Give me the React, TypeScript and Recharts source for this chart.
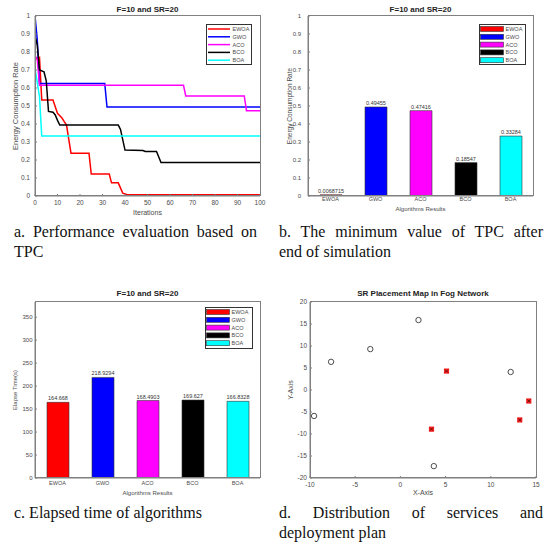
import React from "react";
import {
  LineChart,
  Line,
  BarChart,
  Bar,
  Cell,
  LabelList,
  ScatterChart,
  Scatter,
  XAxis,
  YAxis,
  Legend,
} from "recharts";

// algorithms and their colours (same order in all panels)
const algorithms = ["EWOA", "GWO", "ACO", "BCO", "BOA"];
const algoColors = ["#ff0000", "#0000ff", "#ff00ff", "#000000", "#00ffff"];

// a. convergence curves, [iteration, energy consumption rate]
const ewoaCurve = [
  [0, 0.76], [2, 0.77], [3, 0.533], [8, 0.533], [10, 0.459], [12, 0.433], [13, 0.413],
  [14, 0.394], [16, 0.238], [24, 0.238], [25, 0.122], [33, 0.122], [34, 0.073],
  [37, 0.073], [39, 0.016], [41, 0.0069], [100, 0.0069],
];
const gwoCurve = [[0, 1.0], [1, 0.87], [2, 0.625], [31, 0.625], [32, 0.4946], [100, 0.4946]];
const acoCurve = [
  [0, 0.78], [1, 0.76], [2, 0.615], [66, 0.615], [67, 0.556], [93, 0.556], [94, 0.4742], [100, 0.4742],
];
const bcoCurve = [
  [0, 0.89], [1, 0.84], [2, 0.7], [4, 0.69], [5, 0.64], [6, 0.47], [8, 0.465], [9, 0.45],
  [10, 0.42], [11, 0.394], [37, 0.394], [38, 0.37], [40, 0.255], [48, 0.253], [49, 0.247],
  [54, 0.247], [56, 0.1855], [100, 0.1855],
];
const boaCurve = [[0, 0.71], [2, 0.55], [3, 0.333], [100, 0.3328]];
const curves = [ewoaCurve, gwoCurve, acoCurve, bcoCurve, boaCurve];

const iterTicks = [0, 10, 20, 30, 40, 50, 60, 70, 80, 90, 100];
const rateTicks = [0, 0.1, 0.2, 0.3, 0.4, 0.5, 0.6, 0.7, 0.8, 0.9, 1];

// b. minimum TPC after the end of simulation
const minTpc = [0.0068715, 0.49455, 0.47416, 0.18547, 0.33284];

// c. elapsed time (s)
const elapsed = [164.668, 218.9294, 168.4903, 169.627, 166.8328];
const timeTicks = [0, 50, 100, 150, 200, 250, 300, 350];

// d. SR placement map
const services = [
  { x: -9.55, y: -5.9 }, { x: -7.67, y: 6.4 }, { x: -3.33, y: 9.3 },
  { x: 2.0, y: 15.9 }, { x: 3.7, y: -17.3 }, { x: 12.2, y: 4.1 },
];
const placed = [
  { x: 5.1, y: 4.3 }, { x: 3.44, y: -8.9 }, { x: 13.2, y: -6.8 }, { x: 14.2, y: -2.5 },
];
const mapXTicks = [-10, -5, 0, 5, 10, 15];
const mapYTicks = [-20, -15, -10, -5, 0, 5, 10, 15, 20];

const font = '"Liberation Sans", Arial, sans-serif';
const serif = '"Liberation Serif", "Times New Roman", serif';
const axisGray = "#808080";
const textGray = "#4a4a4a";

// panel layouts: chart size, margins and axis sizes
const topRow = { w: 273, h: 225, top: 16, right: 13, yw: 35, xh: 29 };
const bottomRow = { w: 273, h: 240, top: 32, right: 13, yw: 35, xh: 32 };
const mapLayout = { w: 273, h: 240, top: 32, right: 10, yw: 37, xh: 32 };

// thin box round the plot area (matlab "box on"), drawn as an svg overlay
const Frame = ({ l }: { l: typeof topRow }) => (
  <svg width={l.w} height={l.h} style={{ position: "absolute", left: 0, top: 0, pointerEvents: "none" }}>
    <rect x={l.yw + 0.5} y={l.top - 0.5} width={l.w - l.yw - l.right} height={l.h - l.top - l.xh}
      fill="none" stroke={axisGray} strokeWidth={1} />
  </svg>
);

const Title = ({ x, y, text }: { x: number; y: number; text: string }) => (
  <div style={{ position: "absolute", left: x - 80, top: y - 6, width: 160, textAlign: "center",
    fontFamily: font, fontWeight: "bold", fontSize: 8, lineHeight: "12px", color: "#222" }}>
    {text}
  </div>
);

// legend drawn as a small svg: box, sample (line or filled patch) and name per row
const legendContent = (w: number, h: number, kind: "line" | "patch") => () => (
  <svg width={w} height={h} style={{ display: "block" }}>
    <rect x={0.5} y={0.5} width={w - 1} height={h - 1} fill="#fff" stroke="#333" strokeWidth={1} />
    {algorithms.map((name, i) => {
      const cy = 5 + i * 7.8;
      return (
        <g key={name}>
          {kind === "line" ? (
            <line x1={2} x2={24} y1={cy} y2={cy} stroke={algoColors[i]} strokeWidth={1.5} />
          ) : (
            <rect x={1.5} y={cy - 2.5} width={23} height={5} fill={algoColors[i]} stroke="#333" strokeWidth={0.6} />
          )}
          <text x={26.5} y={cy} dominantBaseline="central" fontFamily={font} fontSize={5.5} fill={textGray}>{name}</text>
        </g>
      );
    })}
  </svg>
);

const legendPos = (left: number, top: number, width: number, height: number): React.CSSProperties => ({
  left, top, width, height,
});

const Cross = (p: any) => (
  <g>
    <rect x={p.cx - 2.6} y={p.cy - 2.6} width={5.2} height={5.2} fill="#ff2020" />
    <path d={`M${p.cx - 1.6},${p.cy - 1.6}L${p.cx + 1.6},${p.cy + 1.6}M${p.cx + 1.6},${p.cy - 1.6}L${p.cx - 1.6},${p.cy + 1.6}`}
      stroke="#5a1010" strokeWidth={0.9} />
  </g>
);

const Ring = (p: any) => (
  <circle cx={p.cx} cy={p.cy} r={2.7} fill="none" stroke="#222" strokeWidth={0.8} />
);

const captionLine = (left: number, top: number, width: number, text: string, justify: boolean) => (
  <div style={{ position: "absolute", left, top, width, fontFamily: serif, fontSize: 16, lineHeight: "20px",
    color: "#111", textAlign: justify ? "justify" : "left", textAlignLast: justify ? "justify" : "left",
    whiteSpace: "nowrap" }}>
    {text}
  </div>
);

export default function App() {
  const tpcData = algorithms.map((name, i) => ({ name, value: minTpc[i] }));
  const timeData = algorithms.map((name, i) => ({ name, value: elapsed[i] }));

  return (
    <div style={{ position: "absolute", left: 0, top: 0, width: 546, height: 544, background: "#fff", overflow: "hidden" }}>
      {/* a. convergence */}
      <div style={{ position: "absolute", left: 0, top: 0, width: topRow.w, height: topRow.h }}>
        <LineChart width={topRow.w} height={topRow.h} margin={{ top: topRow.top, right: topRow.right, bottom: 0, left: 0 }}
          style={{ fontFamily: font }}>
          <XAxis type="number" dataKey="x" domain={[0, 100]} ticks={iterTicks} allowDataOverflow height={topRow.xh}
            tickSize={-2} tickMargin={6} stroke={axisGray} tick={{ fontSize: 6.5, fill: textGray }}
            label={{ value: "Iterations", position: "insideTop", offset: 14, fontSize: 7, fill: textGray }} />
          <YAxis type="number" domain={[0, 1]} ticks={rateTicks} allowDataOverflow width={topRow.yw}
            tickSize={-2} tickMargin={7} stroke={axisGray} tick={{ fontSize: 6.5, fill: textGray }}
            label={{ value: "Energy Consumption Rate", angle: -90, position: "insideLeft", offset: 15,
              fontSize: 7.5, fill: textGray, style: { textAnchor: "middle" } }} />
          {algorithms.map((name, i) => (
            <Line key={name} name={name} data={curves[i].map(([x, y]) => ({ x, y }))} dataKey="y"
              type="linear" stroke={algoColors[i]} strokeWidth={1.5} dot={false} isAnimationActive={false} />
          ))}
          <Legend layout="horizontal" verticalAlign="middle" align="center" content={legendContent(46, 41, "line")}
            wrapperStyle={legendPos(206, 24, 46, 41)} />
        </LineChart>
        <Frame l={topRow} />
      </div>
      <Title x={147.5} y={10} text="F=10 and SR=20" />

      {/* b. minimum TPC */}
      <div style={{ position: "absolute", left: 273, top: 0, width: topRow.w, height: topRow.h }}>
        <BarChart width={topRow.w} height={topRow.h} data={tpcData}
          margin={{ top: topRow.top, right: topRow.right, bottom: 0, left: 0 }} style={{ fontFamily: font }}>
          <XAxis dataKey="name" height={topRow.xh} tickLine={false} tickSize={0} tickMargin={1.5} stroke={axisGray}
            tick={{ fontSize: 5.5, fill: textGray }}
            label={{ value: "Algorithms Results", position: "insideTop", offset: 11, fontSize: 6, fill: textGray }} />
          <YAxis type="number" domain={[0, 1]} ticks={rateTicks} allowDataOverflow width={topRow.yw}
            tickSize={-2} tickMargin={9} stroke={axisGray} tick={{ fontSize: 6, fill: textGray }}
            label={{ value: "Energy Consumption Rate", angle: -90, position: "insideLeft", offset: 17,
              fontSize: 6.5, fill: textGray, style: { textAnchor: "middle" } }} />
          <Bar dataKey="value" barSize={22} stroke="#333" strokeWidth={0.6} isAnimationActive={false}>
            {tpcData.map((d, i) => <Cell key={d.name} fill={algoColors[i]} />)}
            <LabelList dataKey="value" position="top" offset={2} fontSize={5.5} fill="#333" formatter={(v: any) => String(v)} />
          </Bar>
          <Legend layout="horizontal" verticalAlign="middle" align="center" content={legendContent(47, 41, "patch")}
            wrapperStyle={legendPos(206, 24, 47, 41)} />
        </BarChart>
        <Frame l={topRow} />
      </div>
      <Title x={420.5} y={10} text="F=10 and SR=20" />

      {/* c. elapsed time */}
      <div style={{ position: "absolute", left: 0, top: 270, width: bottomRow.w, height: bottomRow.h }}>
        <BarChart width={bottomRow.w} height={bottomRow.h} data={timeData}
          margin={{ top: bottomRow.top, right: bottomRow.right, bottom: 0, left: 0 }} style={{ fontFamily: font }}>
          <XAxis dataKey="name" height={bottomRow.xh} tickLine={false} tickSize={0} tickMargin={3} stroke={axisGray}
            tick={{ fontSize: 5.5, fill: textGray }}
            label={{ value: "Algorithms Results", position: "insideTop", offset: 13, fontSize: 6, fill: textGray }} />
          <YAxis type="number" domain={[0, 383]} ticks={timeTicks} allowDataOverflow width={bottomRow.yw}
            tickSize={-2} tickMargin={4.5} stroke={axisGray} tick={{ fontSize: 6, fill: textGray }}
            label={{ value: "Elapse Time(s)", angle: -90, position: "insideLeft", offset: 15,
              fontSize: 6, fill: textGray, style: { textAnchor: "middle" } }} />
          <Bar dataKey="value" barSize={22} stroke="#333" strokeWidth={0.6} isAnimationActive={false}>
            {timeData.map((d, i) => <Cell key={d.name} fill={algoColors[i]} />)}
            <LabelList dataKey="value" position="top" offset={2} fontSize={5.5} fill="#333" formatter={(v: any) => String(v)} />
          </Bar>
          <Legend layout="horizontal" verticalAlign="middle" align="center" content={legendContent(48, 42, "patch")}
            wrapperStyle={legendPos(205, 37, 48, 42)} />
        </BarChart>
        <Frame l={bottomRow} />
      </div>
      <Title x={147.5} y={294} text="F=10 and SR=20" />

      {/* d. placement map */}
      <div style={{ position: "absolute", left: 273, top: 270, width: mapLayout.w, height: mapLayout.h }}>
        <ScatterChart width={mapLayout.w} height={mapLayout.h}
          margin={{ top: mapLayout.top, right: mapLayout.right, bottom: 0, left: 0 }} style={{ fontFamily: font }}>
          <XAxis type="number" dataKey="x" domain={[-10, 15]} ticks={mapXTicks} allowDataOverflow height={mapLayout.xh}
            tickSize={-2} tickMargin={6.5} stroke={axisGray} tick={{ fontSize: 6.5, fill: textGray }}
            label={{ value: "X-Axis", position: "insideTop", offset: 12.5, fontSize: 7, fill: textGray }} />
          <YAxis type="number" dataKey="y" domain={[-20, 20]} ticks={mapYTicks} allowDataOverflow width={mapLayout.yw}
            tickSize={-2} tickMargin={5} stroke={axisGray} tick={{ fontSize: 6.5, fill: textGray }}
            label={{ value: "Y-Axis", angle: -90, position: "insideLeft", offset: 18,
              fontSize: 7, fill: textGray, style: { textAnchor: "middle" } }} />
          <Scatter name="Services" data={services} shape={Ring} isAnimationActive={false} />
          <Scatter name="Placement" data={placed} shape={Cross} isAnimationActive={false} />
        </ScatterChart>
        <Frame l={mapLayout} />
      </div>
      <Title x={423} y={294} text="SR Placement Map in Fog Network" />

      {/* captions */}
      {captionLine(14, 222, 243, "a. Performance evaluation based on", true)}
      {captionLine(14, 242, 243, "TPC", false)}
      {captionLine(279, 222, 264, "b. The minimum value of TPC after", true)}
      {captionLine(279, 242, 264, "end of simulation", false)}
      {captionLine(14, 503, 243, "c. Elapsed time of algorithms", false)}
      {captionLine(279, 503, 264, "d. Distribution of services and", true)}
      {captionLine(279, 523, 264, "deployment plan", false)}
    </div>
  );
}
